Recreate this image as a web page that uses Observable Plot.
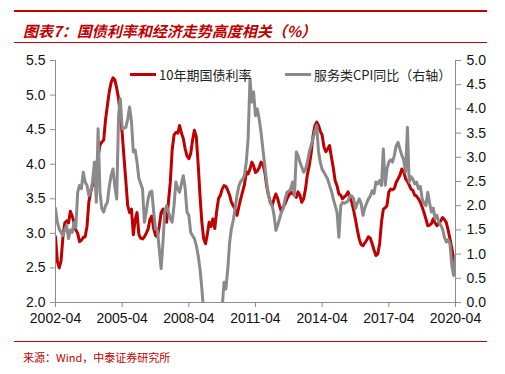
<!DOCTYPE html>
<html>
<head>
<meta charset="utf-8">
<script src="https://cdn.jsdelivr.net/npm/d3@7"></script>
<script src="https://cdn.jsdelivr.net/npm/@observablehq/plot@0.6"></script>
<style>
  html, body { margin: 0; padding: 0; background: #fff; }
  #page { position: relative; width: 505px; height: 374px; overflow: hidden; background: #fff; }
  .rule { position: absolute; left: 14px; width: 473px; background: #c00000; }
  #title { position: absolute; left: 23px; top: 20px; font-family: "Noto Sans CJK SC", sans-serif; font-weight: bold; font-style: italic; font-size: 15px; color: #c00000; white-space: nowrap; }
  #chart { position: absolute; left: 0; top: 48px; }
  #legend { position: absolute; top: 65px; left: 0; width: 505px; height: 20px; font-family: "Noto Sans CJK SC", "Liberation Sans Narrow", sans-serif; font-size: 13px; color: #222; }
  .item { position: absolute; top: 0; display: flex; align-items: center; white-space: nowrap; }
  .sw { display: inline-block; width: 26px; height: 3px; margin-right: 3px; }
  #source { position: absolute; left: 23px; top: 349px; font-family: "Noto Sans CJK SC", monospace; font-size: 11px; color: #c00000; white-space: nowrap; }
</style>
</head>
<body>
<div id="page">
  <div class="rule" style="top:10px;height:2px;"></div>
  <div id="title">图表7：国债利率和经济走势高度相关（%）</div>
  <div class="rule" style="top:42px;height:1px;"></div>
  <div id="chart"></div>
  <div id="legend"></div>
  <div class="rule" style="top:341px;height:1px;"></div>
  <div id="source">来源：Wind，中泰证券研究所</div>
</div>
<script>
// ---- data (monthly, starting 2002-04) ----
const startMonth = "2002-04";
const seriesNames = ["10年期国债利率", "服务类CPI同比（右轴）"];
const bondYield = [
2.95,2.60,2.50,2.60,2.95,3.15,3.18,3.15,3.32,3.25,3.15,3.05,3.00,2.88,2.90,2.94,2.95,3.10,3.45,3.60,
3.70,3.85,4.00,4.10,4.28,4.32,4.35,4.64,4.85,5.05,5.18,5.25,5.22,5.10,4.95,4.70,4.45,4.10,3.75,3.40,
3.30,3.35,2.98,3.20,3.30,2.98,2.93,2.92,2.95,3.00,3.06,3.20,3.25,3.07,2.97,2.95,3.10,3.30,3.35,3.25,
3.16,3.45,3.74,4.20,4.42,4.46,4.45,4.56,4.45,4.37,4.22,4.12,4.08,4.15,4.35,4.49,4.40,4.00,3.55,3.16,
2.92,2.85,3.00,3.16,3.10,3.21,3.07,3.31,3.50,3.55,3.64,3.69,3.68,3.62,3.55,3.45,3.40,3.35,3.26,3.38,
3.50,3.60,3.70,3.89,3.86,3.93,4.03,3.98,3.88,3.90,3.95,4.03,4.00,3.89,3.69,3.55,3.45,3.40,3.50,3.57,
3.50,3.40,3.31,3.38,3.43,3.50,3.55,3.60,3.57,3.60,3.52,3.60,3.55,3.45,3.50,3.64,3.85,3.98,4.15,4.40,
4.55,4.61,4.56,4.48,4.42,4.25,4.18,4.22,4.27,4.10,3.95,3.76,3.69,3.57,3.55,3.50,3.53,3.55,3.60,3.52,
3.45,3.33,3.20,3.05,2.92,2.84,2.82,2.86,2.90,2.95,2.93,2.85,2.76,2.68,2.70,2.85,3.16,3.35,3.37,3.40,
3.60,3.64,3.63,3.65,3.74,3.79,3.84,3.93,3.90,3.79,3.75,3.70,3.64,3.62,3.55,3.54,3.50,3.45,3.38,3.30,
3.21,3.11,3.12,3.14,3.21,3.15,3.11,3.15,3.18,3.23,3.20,3.16,3.05,2.92,2.78,2.62,2.56
];
const servicesCPI = [
1.94,1.66,1.52,1.45,1.38,1.50,1.59,1.32,1.50,1.45,1.66,1.55,2.28,2.42,2.35,2.69,2.49,2.42,2.21,2.30,
2.50,2.90,2.07,3.59,2.28,1.94,1.87,2.00,2.07,2.40,2.62,2.76,2.40,2.14,3.86,4.21,3.59,3.60,3.62,3.79,
4.04,3.73,3.11,3.15,2.90,2.56,2.45,2.35,1.66,1.87,2.14,2.28,2.30,1.87,1.52,1.50,1.11,0.70,1.25,1.87,
2.00,1.87,1.73,1.66,2.00,2.49,2.35,2.28,2.45,2.62,2.35,1.87,1.80,1.45,1.38,1.32,1.18,0.97,0.70,0.28,
-0.20,-0.60,-0.90,-1.00,-1.10,-1.00,-0.90,-0.70,-0.50,-0.30,-0.10,0.42,0.28,0.70,1.25,1.52,1.70,1.94,2.21,2.40,
2.50,2.55,2.62,2.90,3.38,4.62,4.14,4.35,3.86,4.00,3.79,3.52,3.17,2.83,2.49,2.21,2.07,2.00,1.80,1.49,
1.60,1.73,1.87,1.95,2.14,2.28,2.30,2.35,2.49,2.20,3.11,3.04,2.90,2.80,2.69,2.75,2.90,3.11,3.24,3.38,
3.52,3.66,3.11,2.90,2.75,2.69,2.62,2.55,2.42,2.30,2.14,2.00,1.87,1.35,2.00,2.07,2.05,2.07,2.10,2.20,
2.20,2.14,1.94,2.05,2.14,2.05,1.80,1.95,2.05,2.14,2.20,2.31,2.25,2.49,2.45,2.52,2.42,3.17,2.42,2.75,
2.90,2.95,2.90,3.04,3.24,3.31,3.17,3.04,2.95,2.69,3.62,2.49,2.60,2.55,2.45,2.49,2.35,2.40,2.14,2.05,
2.00,2.28,2.05,1.87,1.95,1.73,1.80,1.66,1.60,1.52,1.35,1.25,1.30,1.21,0.76,0.56,0.97
];
const leftTicks = [2.0, 2.5, 3.0, 3.5, 4.0, 4.5, 5.0, 5.5];
const rightTicks = [0.0, 0.5, 1.0, 1.5, 2.0, 2.5, 3.0, 3.5, 4.0, 4.5, 5.0];
const xTickLabels = ["2002-04", "2005-04", "2008-04", "2011-04", "2014-04", "2017-04", "2020-04"];
const colors = ["#c00000", "#8a8a8a"];

// ---- build ----
const parseMonth = d3.utcParse("%Y-%m");
const fmtMonth = d3.utcFormat("%Y-%m");
const start = parseMonth(startMonth);
const monthAt = i => d3.utcMonth.offset(start, i);
const yieldData = bondYield.map((v, i) => ({date: monthAt(i), v}));
const cpiData = servicesCPI.map((v, i) => ({date: monthAt(i), v}));
const xTicks = xTickLabels.map(parseMonth);
const x0 = xTicks[0], x1 = xTicks[xTicks.length - 1];
// right axis 0..5 maps onto left axis 2..5.5
const toLeft = v => 2 + v * 0.7;
const fromLeft = v => (v - 2) / 0.7;
const axisGray = "#8c8c8c";
const tickFont = '"Liberation Sans Narrow", "Arial Narrow", "Liberation Sans", sans-serif';

const chart = Plot.plot({
  width: 505,
  height: 287,
  marginTop: 12,
  marginBottom: 33,
  marginLeft: 55,
  marginRight: 50,
  style: {fontFamily: tickFont, fontSize: "14px", color: "#111", background: "transparent"},
  x: {type: "utc", domain: [x0, x1]},
  y: {domain: [2, 5.5]},
  marks: [
    Plot.line(yieldData, {x: "date", y: "v", stroke: colors[0], strokeWidth: 3, clip: true}),
    Plot.line(cpiData, {x: "date", y: d => toLeft(d.v), stroke: colors[1], strokeWidth: 3, clip: true}),
    Plot.ruleX([x0], {stroke: axisGray, strokeWidth: 1}),
    Plot.ruleX([x1], {stroke: axisGray, strokeWidth: 1}),
    Plot.ruleY([2], {stroke: axisGray, strokeWidth: 1}),
    Plot.axisY({ticks: leftTicks, anchor: "left", tickFormat: d => d.toFixed(1), tickSize: 5, tickPadding: 5, stroke: axisGray, fill: "#111", label: null}),
    Plot.axisY({ticks: rightTicks.map(toLeft), anchor: "right", tickFormat: d => fromLeft(d).toFixed(1), tickSize: 5, tickPadding: 6, stroke: axisGray, fill: "#111", label: null}),
    Plot.axisX({ticks: xTicks, tickFormat: fmtMonth, tickSize: 5, tickPadding: 6, stroke: axisGray, fill: "#111", label: null})
  ]
});
document.getElementById("chart").appendChild(chart);

// legend
const legend = document.getElementById("legend");
const legendX = [130, 285];
seriesNames.forEach((name, i) => {
  const item = document.createElement("div");
  item.className = "item";
  item.style.left = legendX[i] + "px";
  item.innerHTML = `<span class="sw" style="background:${colors[i]}"></span><span>${name}</span>`;
  legend.appendChild(item);
});
</script>
</body>
</html>
